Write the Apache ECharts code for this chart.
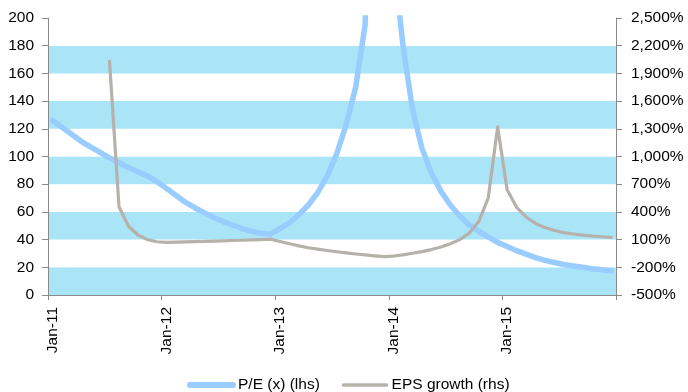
<!DOCTYPE html>
<html>
<head>
<meta charset="utf-8">
<script src="https://cdn.jsdelivr.net/npm/echarts@6/dist/echarts.min.js"></script>
<style>
html,body{margin:0;padding:0;background:#fff;}
#chart{width:688px;height:392px;}
</style>
</head>
<body>
<div id="chart"></div>
<script>
// ---- data ----
const monthNames = ['Jan','Feb','Mar','Apr','May','Jun','Jul','Aug','Sep','Oct','Nov','Dec'];
const years = ['11','12','13','14','15'];
const categories = years.flatMap(y => monthNames.map(m => m + '-' + y));

const peName = 'P/E (x) (lhs)';
const epsName = 'EPS growth (rhs)';

// P/E (x), left axis, monthly Jan-11 .. Dec-15 (values above 200 run off the chart)
const peValues = [
  126, 121, 116, 111, 107, 103, 99, 95.5, 92, 89, 86, 82,
  77, 72, 67, 63, 59.5, 56, 53, 50.5, 48, 46, 44.5, 44,
  48, 52, 58, 65, 74, 86, 102, 123, 150, 195, 450, 700,
  242, 180, 134, 106, 88, 75, 65, 57, 50.5, 46, 42, 38,
  35, 32, 29.5, 27, 25, 23.5, 22, 21, 20, 19, 18.3, 17.5
];

// EPS growth (%), right axis
const epsValues = [
  null, null, null, null, null, null, 2030, 455, 245, 150, 100, 77,
  70, 72, 75, 78, 81, 84, 87, 90, 93, 96, 100, 105,
  80, 55, 32, 12, -4, -18, -32, -44, -56, -66, -76, -85,
  -78, -65, -48, -30, -8, 20, 55, 100, 170, 295, 550, 1320,
  640, 450, 345, 275, 230, 198, 176, 161, 148, 139, 131, 125
];

const leftTicks = {min: 0, max: 200, interval: 20};
const rightTicks = {min: -500, max: 2500, interval: 300};

// ---- chart ----
const FONT = "'Liberation Sans', Arial, sans-serif";
const FS = 15.5;
const axisColor = '#8a8a8a';
const peColor = '#99ccff';
const epsColor = '#b6b1ab';

const chart = echarts.init(document.getElementById('chart'), null, {renderer: 'canvas'});
chart.setOption({
  animation: false,
  backgroundColor: '#ffffff',
  textStyle: {fontFamily: FONT},
  grid: {left: 48, right: 72, top: 18, bottom: 97, containLabel: false},
  legend: {
    data: [
      {name: peName, lineStyle: {width: 6, cap: 'round', color: peColor}},
      {name: epsName, lineStyle: {width: 3.5, cap: 'round', color: epsColor}}
    ],
    left: 182,
    top: 372,
    itemWidth: 43,
    itemHeight: 10,
    itemGap: 22,
    itemStyle: {opacity: 0, color: 'transparent', borderWidth: 0},
    textStyle: {fontFamily: FONT, fontSize: FS, color: '#000'}
  },
  xAxis: {
    type: 'category',
    data: categories,
    boundaryGap: true,
    axisLine: {show: true, lineStyle: {color: axisColor, width: 1}},
    axisTick: {show: true, interval: 11, length: 5, alignWithLabel: false, lineStyle: {color: axisColor}},
    axisLabel: {interval: 11, rotate: 90, margin: 12, fontFamily: FONT, fontSize: FS, color: '#000'},
    splitLine: {show: false}
  },
  yAxis: [
    {
      type: 'value',
      min: leftTicks.min, max: leftTicks.max, interval: leftTicks.interval,
      axisLine: {show: true, lineStyle: {color: axisColor, width: 1}},
      axisTick: {show: true, length: 6, lineStyle: {color: axisColor}},
      axisLabel: {margin: 14, fontFamily: FONT, fontSize: FS, color: '#000'},
      splitLine: {show: false},
      splitArea: {show: true, areaStyle: {color: ['#aae5f7', '#ffffff']}}
    },
    {
      type: 'value',
      position: 'right',
      min: rightTicks.min, max: rightTicks.max, interval: rightTicks.interval,
      axisLine: {show: true, lineStyle: {color: axisColor, width: 1}},
      axisTick: {show: true, length: 6, lineStyle: {color: axisColor}},
      axisLabel: {
        margin: 15, fontFamily: FONT, fontSize: FS, color: '#000',
        formatter: v => v.toLocaleString('en-US') + '%'
      },
      splitLine: {show: false},
      splitArea: {show: false}
    }
  ],
  series: [
    {
      name: peName,
      type: 'line',
      yAxisIndex: 0,
      data: peValues,
      symbol: 'none',
      smooth: false,
      clip: true,
      lineStyle: {color: peColor, width: 5.5, cap: 'round', join: 'round'},
      itemStyle: {color: peColor},
      z: 2
    },
    {
      name: epsName,
      type: 'line',
      yAxisIndex: 1,
      data: epsValues,
      symbol: 'none',
      smooth: false,
      clip: true,
      lineStyle: {color: epsColor, width: 3.2, cap: 'round', join: 'round'},
      itemStyle: {color: epsColor},
      z: 3
    }
  ]
});
</script>
</body>
</html>
